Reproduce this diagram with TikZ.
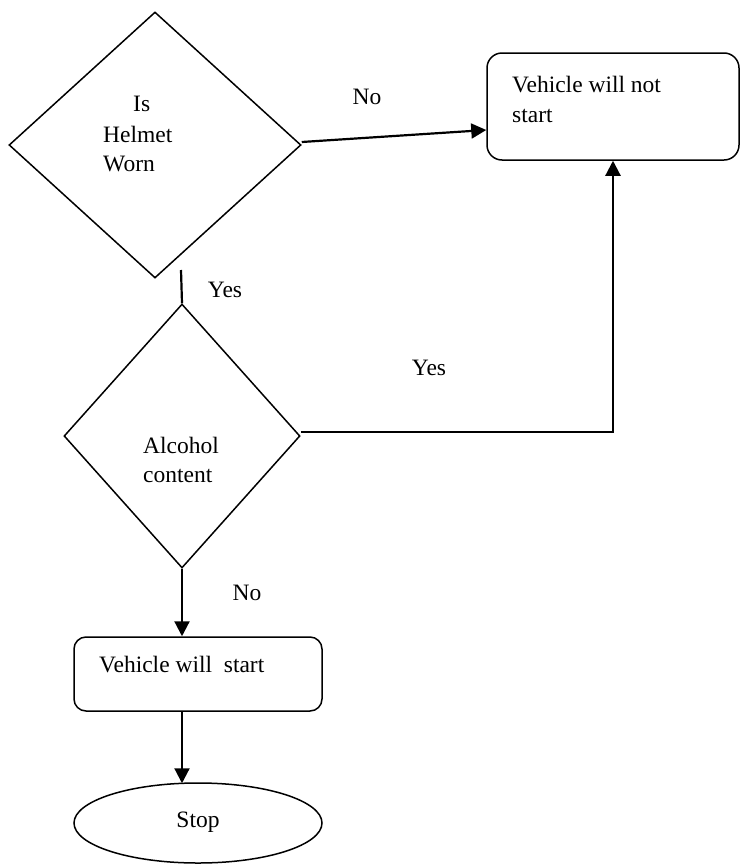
\documentclass[tikz,border=0pt]{standalone}
\usepackage{fontspec}
\setmainfont{Liberation Serif}
\usetikzlibrary{shapes.geometric,arrows.meta}
\begin{document}
\begin{tikzpicture}[x=1pt,y=-1pt,
  shapeline/.style={draw,line width=1.5pt,inner sep=0pt},
  dia/.style={shapeline,diamond},
  rbox/.style={shapeline,rectangle},
  conn/.style={line width=2.2pt},
  arr/.style={conn,-{Triangle[length=15pt,width=15pt]}},
  txt/.style={font=\fontsize{23.5}{29}\selectfont,inner sep=0pt,anchor=base west},
  lbl/.style={font=\fontsize{23.5}{29}\selectfont,inner sep=0pt}]
\useasboundingbox (0,0) rectangle (740,865);
% shapes
\node[dia,minimum width=292pt,minimum height=266pt] (d1) at (155,145) {};
\node[dia,minimum width=236pt,minimum height=264pt] (d2) at (182,436) {};
\node[rbox,rounded corners=15pt,minimum width=252pt,minimum height=107pt] (box1) at (613,106.5) {};
\node[rbox,rounded corners=12pt,minimum width=248pt,minimum height=74pt] (box2) at (198,674) {};
\node[shapeline,ellipse,minimum width=248pt,minimum height=80pt] (stop) at (198,823) {};
% texts
\node[txt] (t1a) at (133,111) {Is};
\node[txt] (t1b) at (103,142) {Helmet};
\node[txt] (t1c) at (103,171) {Worn};
\node[txt] (t2a) at (143,453) {Alcohol};
\node[txt] (t2b) at (143,482) {content};
\node[txt] (tb1a) at (512,92) {Vehicle will not};
\node[txt] (tb1b) at (512,122) {start};
\node[txt] (tb2) at (99,672) {Vehicle will\ \ start};
\node[lbl] (tstop) at (198,822) {Stop};
% labels
\node[lbl] (lno1) at (367,97) {No};
\node[lbl] (lyes1) at (225,290) {Yes};
\node[lbl] (lyes2) at (429,368) {Yes};
\node[lbl] (lno2) at (247,593) {No};
% connectors
\draw[arr] ([yshift=3pt]d1.east) -- ([yshift=-23.5pt]box1.west);
\coordinate (ytop) at (181,270);
\draw[conn] (ytop) -- (d2.north);
\draw[arr] ([yshift=4pt]d2.east) -- ([yshift=4pt]d2.east -| box1.south) -- (box1.south);
\draw[arr] (d2.south) -- (d2.south |- box2.north);
\draw[arr] (d2.south |- box2.south) -- ([yshift=-1pt]d2.south |- stop.north);
\end{tikzpicture}
\end{document}
